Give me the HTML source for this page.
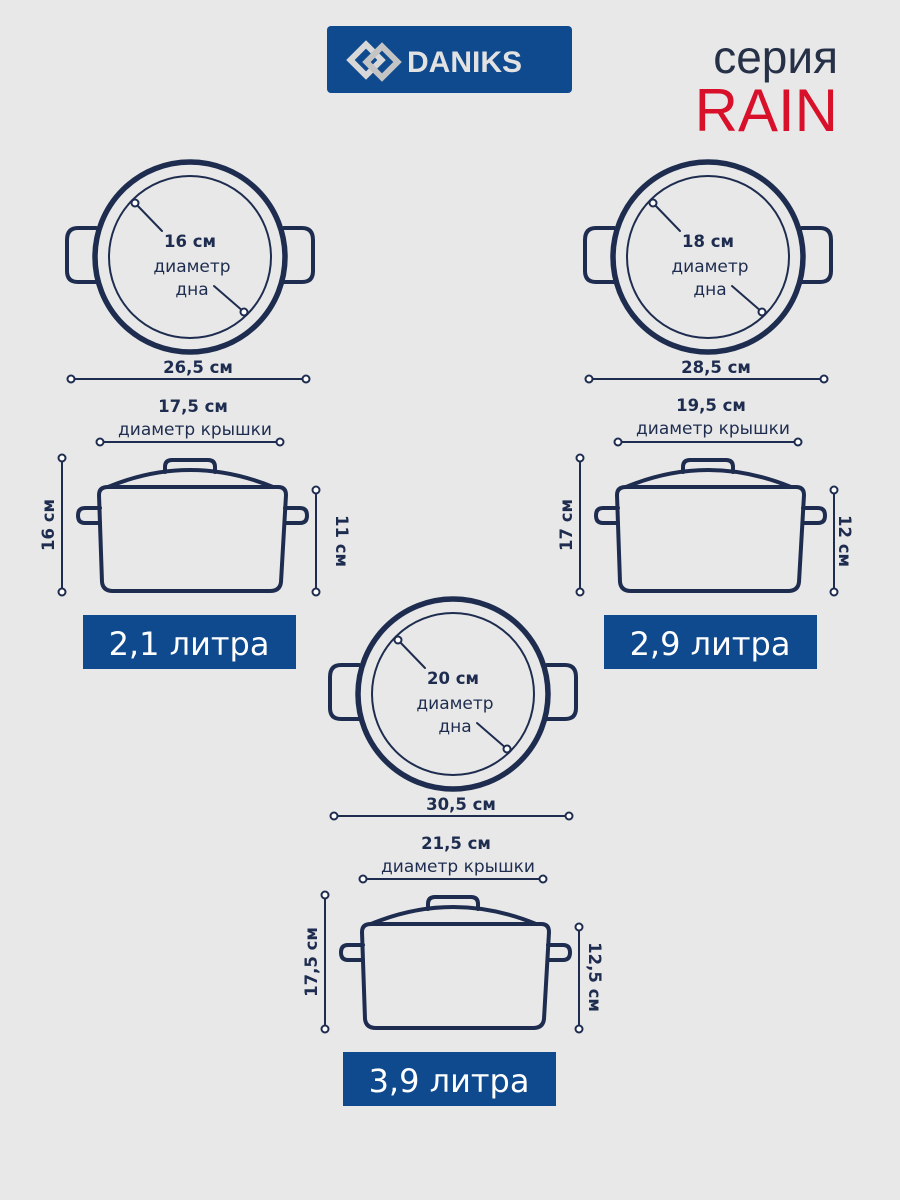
<!DOCTYPE html>
<html><head><meta charset="utf-8"><style>
html,body{margin:0;padding:0;background:#e8e8e8;}
svg{display:block;font-family:"Liberation Sans","DejaVu Sans",sans-serif;}
.b{font-weight:bold;font-size:16.5px;fill:#1e2d4f;font-family:"DejaVu Sans","Liberation Sans",sans-serif;}
.t{font-size:17px;fill:#1e2d4f;font-family:"DejaVu Sans","Liberation Sans",sans-serif;}
.s{stroke:#1e2d4f;fill:none;stroke-linecap:round;stroke-linejoin:round;}
.d{fill:#fff;stroke:#1e2d4f;stroke-width:2;}
.L{font-size:32px;fill:#fff;font-family:"DejaVu Sans","Liberation Sans",sans-serif;}
</style></head><body>
<svg width="900" height="1200" viewBox="0 0 900 1200" xmlns="http://www.w3.org/2000/svg">
<defs>
<g id="pot">
  <path class="s" stroke-width="4" d="M96,228 H78 Q67,228 67,240 V271 Q67,282 78,282 H96"/>
  <path class="s" stroke-width="4" d="M284,228 H302 Q313,228 313,240 V271 Q313,282 302,282 H284"/>
  <circle cx="190" cy="257" r="95" class="s" stroke-width="5.5" fill="#e8e8e8"/>
  <circle cx="190" cy="257" r="81" class="s" stroke-width="2"/>
  <line x1="135" y1="203" x2="162" y2="231" class="s" stroke-width="2"/>
  <line x1="214" y1="286" x2="244" y2="312" class="s" stroke-width="2"/>
  <circle cx="135" cy="203" r="3.5" class="d"/>
  <circle cx="244" cy="312" r="3.5" class="d"/>
  <line x1="71" y1="379" x2="306" y2="379" class="s" stroke-width="2"/>
  <circle cx="71" cy="379" r="3.5" class="d"/>
  <circle cx="306" cy="379" r="3.5" class="d"/>
  <line x1="100" y1="442" x2="280" y2="442" class="s" stroke-width="2"/>
  <circle cx="100" cy="442" r="3.5" class="d"/>
  <circle cx="280" cy="442" r="3.5" class="d"/>
  <line x1="62" y1="458" x2="62" y2="592" class="s" stroke-width="2"/>
  <circle cx="62" cy="458" r="3.5" class="d"/>
  <circle cx="62" cy="592" r="3.5" class="d"/>
  <line x1="316" y1="490" x2="316" y2="592" class="s" stroke-width="2"/>
  <circle cx="316" cy="490" r="3.5" class="d"/>
  <circle cx="316" cy="592" r="3.5" class="d"/>
  <path class="s" stroke-width="4" d="M165,472 V467 Q165,460 172,460 H208 Q215,460 215,467 V472"/>
  <path class="s" stroke-width="4" d="M108,487 Q190,453 273,487"/>
  <path class="s" stroke-width="4" d="M108,487 H278 Q286,487 286,495 L281,582 Q280,591 270,591 H113 Q103,591 102,582 L99,495 Q99,487 108,487 Z"/>
  <path class="s" stroke-width="4" d="M100,508 H85 Q78,508 78,515.5 Q78,523 85,523 H100"/>
  <path class="s" stroke-width="4" d="M285,508 H300 Q307,508 307,515.5 Q307,523 300,523 H285"/>
</g>
</defs>

<rect x="327" y="26" width="245" height="67" rx="4" fill="#0f4a8e"/>
<g transform="translate(366,60) rotate(45)">
  <rect x="-11" y="-11" width="22" height="22" fill="none" stroke="#d8d8d8" stroke-width="6"/>
</g>
<g transform="translate(382,62) rotate(45)">
  <rect x="-11" y="-11" width="22" height="22" fill="none" stroke="#c4c4c4" stroke-width="6"/>
</g>
<text x="407" y="72" font-size="30" font-family="Liberation Sans,sans-serif" font-weight="bold" fill="#e2e2e2">DANIKS</text>
<text x="838" y="73" text-anchor="end" font-size="46" fill="#263148">серия</text>
<text x="838" y="131" text-anchor="end" font-size="60" fill="#d9102a">RAIN</text>

<use href="#pot"/>
<use href="#pot" transform="translate(518,0)"/>
<use href="#pot" transform="translate(263,437)"/>

<text class="b" x="190" y="247" text-anchor="middle">16 см</text>
<text class="t" x="192" y="272" text-anchor="middle">диаметр</text>
<text class="t" x="192" y="295" text-anchor="middle">дна</text>
<text class="b" x="198" y="373" text-anchor="middle">26,5 см</text>
<text class="b" x="193" y="412" text-anchor="middle">17,5 см</text>
<text class="t" x="195" y="435" text-anchor="middle">диаметр крышки</text>
<text class="b" transform="translate(54,525) rotate(-90)" text-anchor="middle">16 см</text>
<text class="b" transform="translate(336,541) rotate(90)" text-anchor="middle">11 см</text>
<rect x="83" y="615" width="213" height="54" fill="#0f4a8e"/>
<text class="L" x="189" y="655" text-anchor="middle">2,1 литра</text>

<text class="b" x="708" y="247" text-anchor="middle">18 см</text>
<text class="t" x="710" y="272" text-anchor="middle">диаметр</text>
<text class="t" x="710" y="295" text-anchor="middle">дна</text>
<text class="b" x="716" y="373" text-anchor="middle">28,5 см</text>
<text class="b" x="711" y="411" text-anchor="middle">19,5 см</text>
<text class="t" x="713" y="434" text-anchor="middle">диаметр крышки</text>
<text class="b" transform="translate(572,525) rotate(-90)" text-anchor="middle">17 см</text>
<text class="b" transform="translate(839,541) rotate(90)" text-anchor="middle">12 см</text>
<rect x="604" y="615" width="213" height="54" fill="#0f4a8e"/>
<text class="L" x="710" y="655" text-anchor="middle">2,9 литра</text>

<text class="b" x="453" y="684" text-anchor="middle">20 см</text>
<text class="t" x="455" y="709" text-anchor="middle">диаметр</text>
<text class="t" x="455" y="732" text-anchor="middle">дна</text>
<text class="b" x="461" y="810" text-anchor="middle">30,5 см</text>
<text class="b" x="456" y="849" text-anchor="middle">21,5 см</text>
<text class="t" x="458" y="872" text-anchor="middle">диаметр крышки</text>
<text class="b" transform="translate(317,962) rotate(-90)" text-anchor="middle">17,5 см</text>
<text class="b" transform="translate(589,977) rotate(90)" text-anchor="middle">12,5 см</text>
<rect x="343" y="1052" width="213" height="54" fill="#0f4a8e"/>
<text class="L" x="449" y="1092" text-anchor="middle">3,9 литра</text>
</svg>
</body></html>
